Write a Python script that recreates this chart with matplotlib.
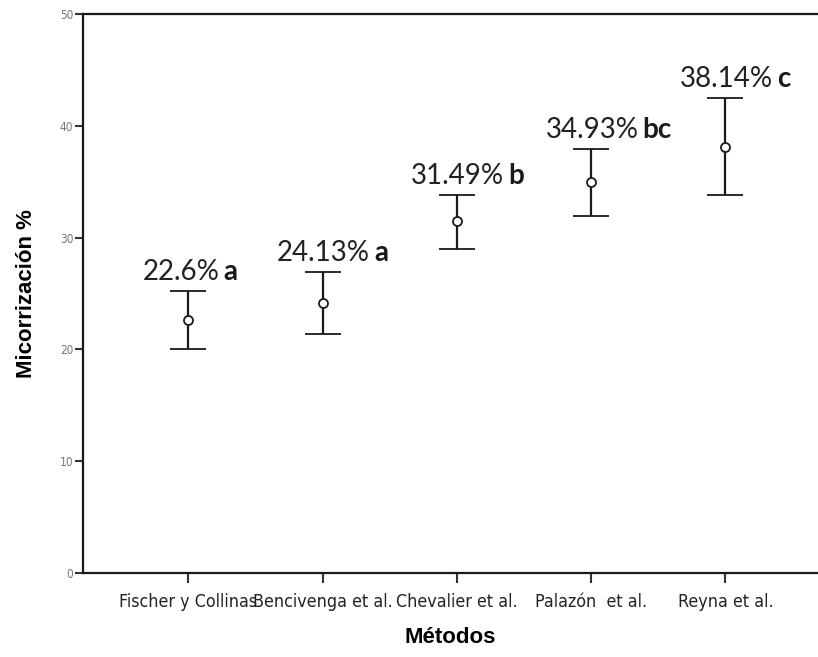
import matplotlib
matplotlib.use('Agg')
import matplotlib.pyplot as plt
import numpy as np

# mycorrhization per method: mean with lower/upper interval limits
methods = ['Fischer y Collinas', 'Bencivenga et al.', 'Chevalier et al.', 'Palazón  et al.', 'Reyna et al.']
means = [22.60, 24.13, 31.49, 34.93, 38.14]
lower = [20.0, 21.4, 29.0, 31.9, 33.8]
upper = [25.2, 26.9, 33.8, 37.9, 42.5]
groups = ['a', 'a', 'b', 'bc', 'c']
mean_labels = ['22.6%', '24.13%', '31.49%', '34.93%', '38.14%']

narrow = ['DejaVu Sans']
label_font = ['Lato', 'DejaVu Sans']


def makePlot():
    fig = plt.figure(figsize=(8.18, 6.57), dpi=100)
    # axes run past the right edge, as in the original export
    ax = fig.add_axes([83 / 818, 84 / 657, 1 - 83 / 818, 559 / 657])

    x = np.arange(1, len(methods) + 1)
    means_a = np.array(means)
    yerr = [means_a - np.array(lower), np.array(upper) - means_a]
    ax.errorbar(x, means_a, yerr=yerr, fmt='o', color='#1a1a1a', ecolor='#1a1a1a',
                elinewidth=1.6, capsize=13, capthick=1.6, markersize=6.5,
                markerfacecolor='white', markeredgecolor='#1a1a1a', markeredgewidth=1.3)

    # mean value plus significance letter above each interval
    for xi, up, txt, grp in zip(x, upper, mean_labels, groups):
        t = ax.text(xi - 0.34, up + 1.0, txt, fontsize=20, family=label_font,
                    color='#222222', ha='left', va='baseline')
        ax.annotate(grp, xy=(1, 0), xycoords=t, xytext=(3, 0), textcoords='offset points',
                    fontsize=20, family=label_font, fontweight='bold', color='#1a1a1a',
                    ha='left', va='bottom')

    ax.set_xlim(0.216, 5.69)
    ax.set_ylim(0, 50)
    ax.set_xticks(x)
    ax.set_xticklabels(methods, family=narrow, fontstretch='condensed', fontsize=12.8,
                       color='#222222')
    ax.set_yticks([0, 10, 20, 30, 40, 50])
    ax.set_yticklabels(['0', '10', '20', '30', '40', '50'], family=narrow,
                       fontstretch='condensed', fontsize=8.5, color='#777777')
    ax.tick_params(axis='both', direction='out', length=7, width=1.5, color='#333333')
    ax.tick_params(axis='x', pad=7.5)
    ax.tick_params(axis='y', length=6, pad=1)

    for side in ['left', 'top', 'bottom']:
        ax.spines[side].set_linewidth(1.6)
        ax.spines[side].set_color('#1a1a1a')
    ax.spines['right'].set_visible(False)

    ax.set_xlabel('Métodos', family=['Liberation Sans', 'DejaVu Sans'], fontsize=16,
                  fontweight='bold')
    ax.xaxis.set_label_coords(0.5, -0.097)
    ax.set_ylabel('Micorrización %', family=['Liberation Sans', 'DejaVu Sans'], fontsize=16,
                  fontweight='bold', labelpad=16)

    fig.savefig('out.png', dpi=100)


if __name__ == '__main__':
    makePlot()
